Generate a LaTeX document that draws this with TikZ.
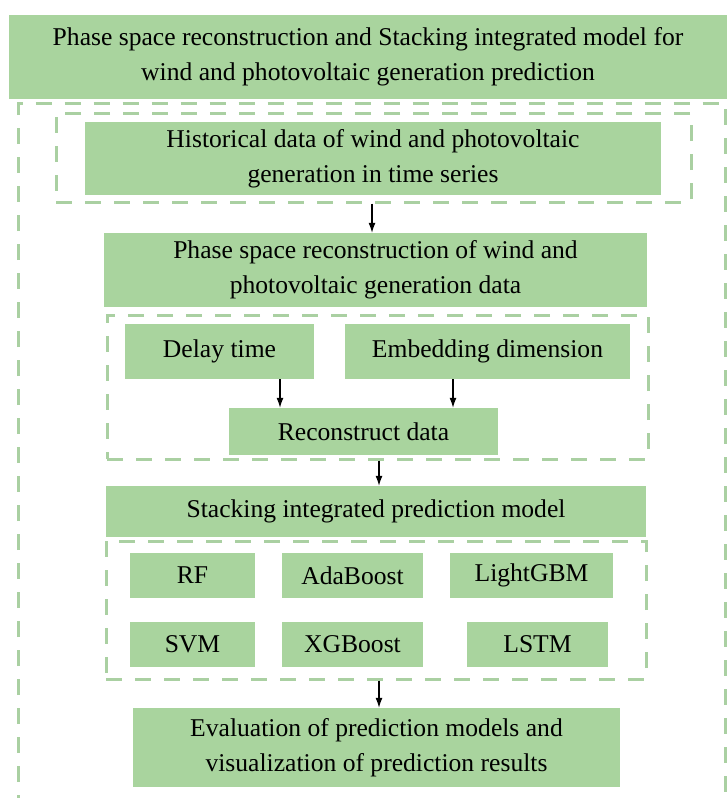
\documentclass[tikz,border=0pt]{standalone}
\usepackage{fontspec}
\setmainfont{Liberation Serif}
\usetikzlibrary{arrows.meta}
\definecolor{boxgreen}{RGB}{169,212,158}
\definecolor{dashgreen}{RGB}{170,208,162}
\tikzset{
  greenbox/.style={fill=boxgreen,inner sep=0pt,align=center,
    font=\fontsize{25.6}{35}\selectfont},
  groupbox/.style={draw=dashgreen,line width=3pt,dash pattern=on 16pt off 13pt,
    inner sep=0pt},
  arr/.style={-{Latex[length=10pt,width=7pt]},line width=1.2pt}
}
\begin{document}
\begin{tikzpicture}[x=1pt,y=-1pt]
\useasboundingbox (0,0) rectangle (727,798);
\clip (0,0) rectangle (727,798);
% outer frame, open at the bottom
\draw[groupbox] (18.5,840) -- (18.5,103) -- (725.5,103) -- (725.5,840);
\node[greenbox,minimum width=718pt,minimum height=84pt] (title) at (368,57)
  {Phase space reconstruction and Stacking integrated model for\\
   wind and photovoltaic generation prediction};
% historical data
\node[groupbox,minimum width=635pt,minimum height=89pt] (histgrp) at (373.5,157.5) {};
\node[greenbox,minimum width=576pt,minimum height=73pt] (hist) at (373,158.5)
  {Historical data of wind and photovoltaic\\generation in time series};
% phase space reconstruction
\node[greenbox,minimum width=543pt,minimum height=74pt] (phase) at (375.5,270)
  {Phase space reconstruction of wind and\\photovoltaic generation data};
\node[groupbox,minimum width=541pt,minimum height=144pt] (recgrp) at (377.5,387) {};
\node[greenbox,minimum width=189pt,minimum height=55pt] (delay) at (219.5,351.5) {Delay time};
\node[greenbox,minimum width=285pt,minimum height=55pt] (embed) at (487.5,351.5) {Embedding dimension};
\node[greenbox,minimum width=269pt,minimum height=47pt] (recon) at (363.5,431.5) {Reconstruct data};
% stacking model
\node[greenbox,minimum width=540pt,minimum height=51pt] (stack) at (376,511.5)
  {Stacking integrated prediction model};
\node[groupbox,minimum width=540pt,minimum height=138pt] (modgrp) at (376,610) {};
\node[greenbox,minimum width=125pt,minimum height=45pt] (rf) at (192.5,575.5) {RF};
\node[greenbox,minimum width=141pt,minimum height=45pt] (ada) at (352.5,575.5) {AdaBoost};
\node[greenbox,minimum width=163pt,minimum height=45pt] (lgbm) at (531.5,575.5) {LightGBM};
\node[greenbox,minimum width=125pt,minimum height=45pt] (svm) at (192.5,644.5) {SVM};
\node[greenbox,minimum width=141pt,minimum height=45pt] (xgb) at (352.5,644.5) {XGBoost};
\node[greenbox,minimum width=141pt,minimum height=45pt] (lstm) at (537.5,644.5) {LSTM};
% evaluation
\node[greenbox,minimum width=487pt,minimum height=79pt] (eval) at (376.5,747.5)
  {Evaluation of prediction models and\\visualization of prediction results};
% arrows
\draw[arr] ([xshift=-1.5pt]histgrp.south) -- ([xshift=-1.5pt]histgrp.south |- phase.north);
\draw[arr] ([xshift=60.5pt]delay.south) -- ([xshift=60.5pt]delay.south |- recon.north);
\draw[arr] ([xshift=-34.5pt]embed.south) -- ([xshift=-34.5pt]embed.south |- recon.north);
\draw[arr] ([xshift=1.5pt]recgrp.south) -- ([xshift=1.5pt]recgrp.south |- stack.north);
\draw[arr] ([xshift=3pt]modgrp.south) -- ([xshift=3pt]modgrp.south |- eval.north);
\end{tikzpicture}
\end{document}
